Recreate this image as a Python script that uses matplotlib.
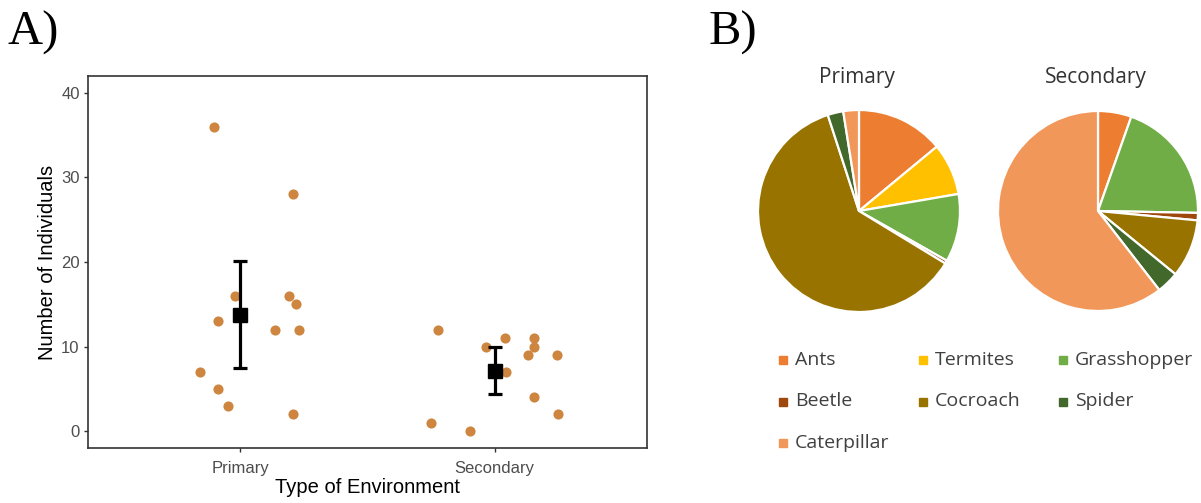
import numpy as np
import matplotlib.pyplot as plt

# Panel A: number of individuals at each sampling point
environments = ["Primary", "Secondary"]
primary_counts = [36, 28, 16, 16, 15, 13, 12, 12, 7, 5, 3, 2]
secondary_counts = [12, 10, 11, 7, 11, 10, 9, 9, 4, 2, 1, 0]
# horizontal jitter of each point, as drawn in the figure
primary_jitter = [-0.104, 0.208, -0.021, 0.192, 0.219, -0.089, 0.137, 0.231, -0.159, -0.089, -0.050, 0.208]
secondary_jitter = [-0.224, -0.035, 0.041, 0.044, 0.155, 0.155, 0.133, 0.245, 0.155, 0.249, -0.252, -0.097]

# Panel B: share of each prey group (%)
taxa = ["Ants", "Termites", "Grasshopper", "Beetle", "Cocroach", "Spider", "Caterpillar"]
primary_share = [14.0, 8.3, 10.9, 0.5, 61.3, 2.5, 2.5]
secondary_share = [5.4, 0.0, 19.9, 1.2, 9.4, 3.6, 60.5]
taxa_colors = ["#ED7D31", "#FFC000", "#70AD47", "#9E480E", "#997300", "#43682B", "#F1975A"]

T_CRIT = 2.201  # t(0.975, df=11)

W, H = 1201, 503
fig = plt.figure(figsize=(W / 100, H / 100), dpi=100)

# ---- A) jittered points with mean and 95% CI ----
ax = fig.add_axes([88 / W, 1 - 448 / H, (647 - 88) / W, (448 - 76) / H])
point_col = "#CD853F"
groups = [(primary_counts, primary_jitter), (secondary_counts, secondary_jitter)]
for i, (counts, jit) in enumerate(groups):
    pos = i + 1
    ax.plot(pos + np.array(jit), counts, "o", color=point_col, markersize=7.3,
            markeredgewidth=0, zorder=2)
    c = np.array(counts, dtype=float)
    mean = c.mean()
    ci = T_CRIT * c.std(ddof=1) / np.sqrt(len(c))
    ax.errorbar(pos, mean, yerr=ci, fmt="s", color="black", markersize=10,
                elinewidth=2.3, capsize=5, capthick=2.3, zorder=3)

ax.set_xlim(0.4, 2.6)
ax.set_ylim(-2, 42)
ax.set_xticks([1, 2])
ax.set_xticklabels(environments)
ax.set_yticks([0, 10, 20, 30, 40])
for s in ax.spines.values():
    s.set_color("#333333")
    s.set_linewidth(1.2)
ax.tick_params(length=3, width=1, color="#333333", labelcolor="#4D4D4D",
               labelsize=12)
ax.tick_params(axis="x", pad=6)
ax.tick_params(axis="y", pad=3)
for lab in ax.get_xticklabels() + ax.get_yticklabels():
    lab.set_family("Liberation Sans")
ax.set_xlabel("Type of Environment", fontsize=14.5, family="Liberation Sans", labelpad=2)
ax.set_ylabel("Number of Individuals", fontsize=14.5, family="Liberation Sans", labelpad=3)

# ---- B) pies drawn on a full-figure pixel canvas ----
pax = fig.add_axes([0, 0, 1, 1])
pax.set_axis_off()

pies = [("Primary", primary_share, (859, H - 211), 101),
        ("Secondary", secondary_share, (1098, H - 211), 100)]
for title, share, center, r in pies:
    vals = [v for v in share if v > 0]
    cols = [c for v, c in zip(share, taxa_colors) if v > 0]
    pax.pie(vals, colors=cols, center=center, radius=r, startangle=90,
            counterclock=False, wedgeprops=dict(edgecolor="white", linewidth=1.6))
    pax.text(center[0] - 2, H - 77, title, ha="center", va="center",
             fontsize=15, family="Open Sans", color="#333333")

# legend, row by row like the Excel one
for i, (name, col) in enumerate(zip(taxa, taxa_colors)):
    x0 = 783 + 140 * (i % 3)
    y0 = H - (360 + 41.5 * (i // 3))
    pax.plot(x0, y0, "s", color=col, markersize=5.5)
    pax.text(x0 + 12, y0, name, ha="left", va="center", fontsize=14,
             family="Open Sans", color="#404040")

pax.set_xlim(0, W)
pax.set_ylim(0, H)
pax.set_aspect("auto")

fig.text(8 / W, 1 - 45 / H, "A)", family="Liberation Serif", fontsize=35, va="baseline")
fig.text(709 / W, 1 - 45 / H, "B)", family="Liberation Serif", fontsize=35, va="baseline")

fig.savefig("out.png", dpi=100)
